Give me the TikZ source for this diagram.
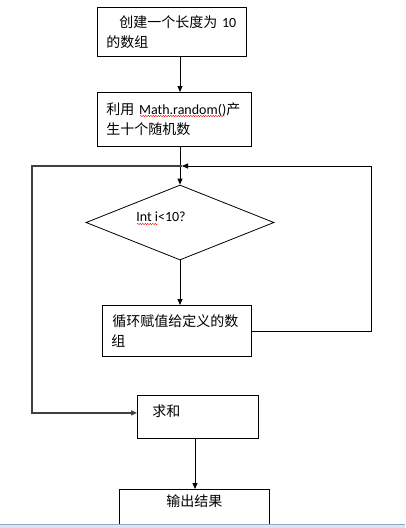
\documentclass[tikz,border=0pt]{standalone}
\usepackage{fontspec}
\setmainfont{Carlito}
\newfontfamily\cjk{Noto Sans CJK SC}
\usetikzlibrary{shapes.geometric,arrows.meta,decorations.pathmorphing}
\definecolor{stripfill}{HTML}{DCE6F2}
\definecolor{stripline}{HTML}{8FA8C8}

\begin{document}
\begin{tikzpicture}[x=1pt,y=-1pt,>={Triangle[length=6pt,width=5pt]},line width=0.8pt,
	font=\fontsize{14}{20}\selectfont,
	box/.style={draw,rectangle,anchor=north west,inner xsep=10pt,inner ysep=0pt,align=left},
	loopline/.style={draw=black!75,line width=1.2pt},
	squiggle/.style={draw=red,line width=0.4pt,decorate,decoration={snake,amplitude=0.7pt,segment length=2.5pt}}]
	\useasboundingbox (0,0) rectangle (405,528);

	\node[box,minimum width=149pt,minimum height=49pt,text width=131pt,inner xsep=9pt] (make) at (97,7)
		{\hspace*{13pt}{\cjk 创建一个长度为} 10\\{\cjk 的数组}};
	\node[box,minimum width=154pt,minimum height=54pt,text width=136pt,inner xsep=9pt] (rand) at (97,92)
		{{\cjk 利用} Math.random(){\cjk 产}\\{\cjk 生十个随机数}};
	\node[draw,diamond,minimum width=188pt,minimum height=75pt,inner sep=0pt] (cond) at (180,222.5) {};
	\node (condtext) at (161,217) {Int i<10?};
	\node[box,minimum width=149pt,minimum height=51pt,text width=131pt,inner xsep=9pt] (fill) at (102,305)
		{\hspace*{1pt}{\cjk 循环赋值给定义的数}\\{\cjk 组}};
	\node[box,minimum width=121pt,minimum height=43pt,text width=91pt,inner xsep=15pt,
		text height=9pt,text depth=10pt] (sum) at (137,395) {\cjk 求和};
	\node[draw,rectangle,anchor=north west,minimum width=150pt,minimum height=37pt,
		text height=9pt,text depth=12pt] (out) at (119,489) {\cjk 输出结果};

	\coordinate (col) at (180,0);
	\coordinate (col2) at (195,0);
	\coordinate (join) at (182,166);
	\coordinate (right) at (371,166);
	\coordinate (left) at (32,166);

	\path[->]
		(make.south -| col) edge (rand.north -| col)
		(rand.south -| col) edge (cond.north)
		(cond.south) edge (fill.north -| cond.south)
		(sum.south -| col2) edge (out.north -| col2);

	\draw[->] (fill.east) -| (right) -- (join);
	\draw[->,loopline] (join) -- (left) |- ([yshift=4pt]sum.west);

	% spelling marks
	\draw[squiggle] (140,116) -- (225,116);
	\draw[squiggle] (137,224) -- (158,224);

	\fill[stripfill] (0,524) rectangle (405,528);
	\draw[stripline,line width=1pt] (0,524) -- (405,524);
\end{tikzpicture}
\end{document}
